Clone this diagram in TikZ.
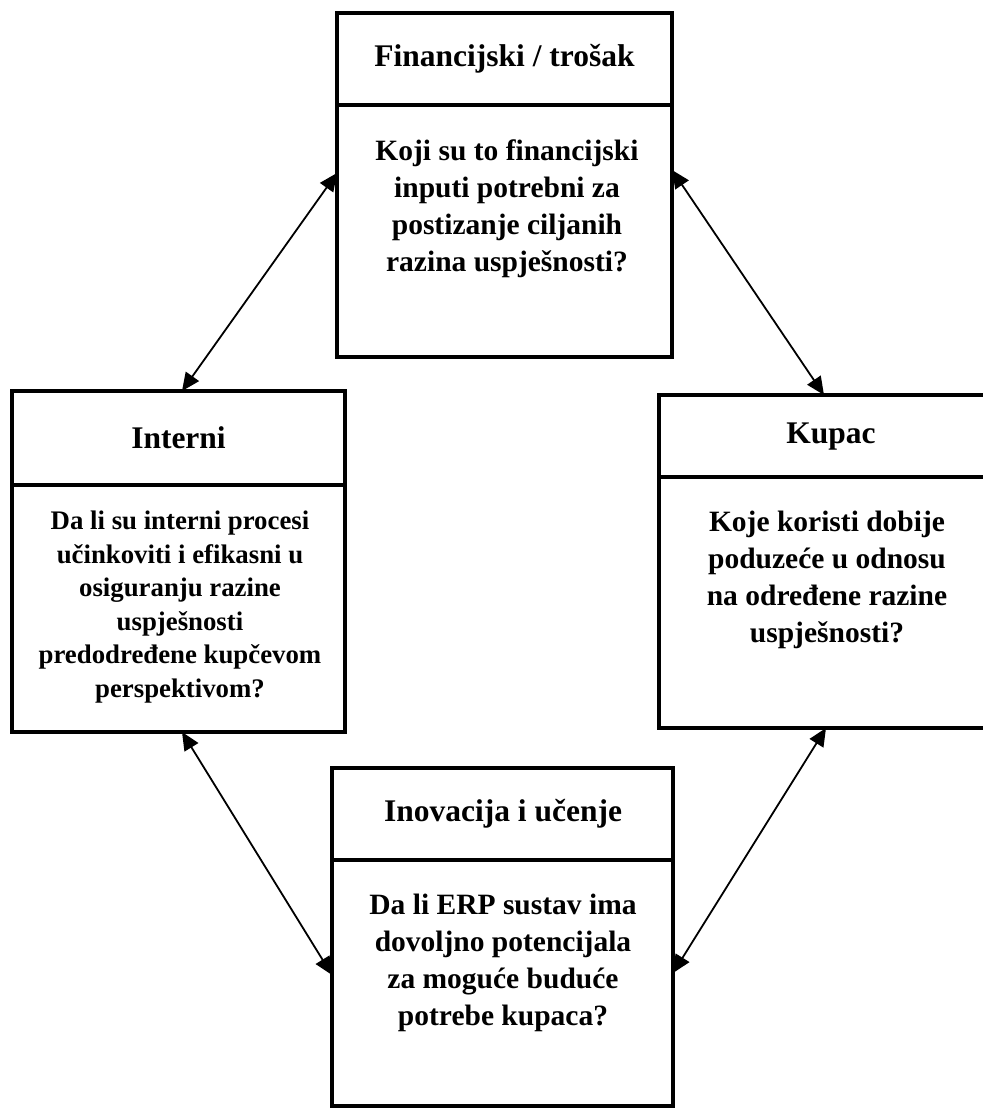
\documentclass[tikz,border=0pt]{standalone}
\usepackage{fontspec}
\setmainfont{Liberation Serif}
\usetikzlibrary{arrows.meta,calc}
\tikzset{
  box/.style={draw=black, line width=3.2pt, rectangle, outer sep=0pt, inner sep=0pt, fill=none},
  divline/.style={draw=black, line width=3.2pt},
  ttl/.style={font=\bfseries\fontsize{31.5}{36}\selectfont, align=center, inner sep=0pt},
  body/.style={font=\bfseries\fontsize{29.5}{37}\selectfont, align=center, inner sep=0pt},
  link/.style={draw=black, line width=1.8pt, {Triangle[length=18pt,width=16pt]}-{Triangle[length=18pt,width=16pt]}, shorten <=0pt, shorten >=0pt}
}
\begin{document}
\begin{tikzpicture}[x=1pt,y=-1pt]
\useasboundingbox (0,0) rectangle (983,1109);
\clip (0,0) rectangle (983,1109);
\fill[white] (0,0) rectangle (983,1109);

% boxes
\node[box, minimum width=335pt, minimum height=344pt] (fin) at (504.5,185) {};
\node[box, minimum width=333pt, minimum height=341pt] (int) at (178.5,561.5) {};
\node[box, minimum width=338pt, minimum height=333pt] (kup) at (828,561.5) {};
\node[box, minimum width=341pt, minimum height=338pt] (ino) at (502.5,937) {};

% dividers
\draw[divline] (fin.west |- 0,105) -- (fin.east |- 0,105);
\draw[divline] (int.west |- 0,485) -- (int.east |- 0,485);
\draw[divline] (kup.west |- 0,477) -- (kup.east |- 0,477);
\draw[divline] (ino.west |- 0,860) -- (ino.east |- 0,860);

% titles
\node[ttl] (finT) at (504.5,59) {Financijski / trošak};
\node[ttl] (intT) at (178.5,438) {Interni};
\node[ttl] (kupT) at (831,437) {Kupac};
\node[ttl] (inoT) at (503,814) {Inovacija i učenje};

% bodies
\node[body] (finB) at (507,209) {Koji su to financijski\\inputi potrebni za\\postizanje ciljanih\\razina uspješnosti?};
\node[body, font=\bfseries\fontsize{26.8}{33.5}\selectfont] (intB) at (180,607) {Da li su interni procesi\\učinkoviti i efikasni u\\osiguranju razine\\uspješnosti\\predodređene kupčevom\\perspektivom?};
\node[body] (kupB) at (827,580) {Koje koristi dobije\\poduzeće u odnosu\\na određene razine\\uspješnosti?};
\node[body] (inoB) at (503,963) {Da li ERP sustav ima\\dovoljno potencijala\\za moguće buduće\\potrebe kupaca?};

% connection points
\coordinate (finL) at ($(fin.west)+(0,-12)$);
\coordinate (finR) at ($(fin.east)+(0,-15)$);
\coordinate (intTop) at ($(int.north)+(3.5,0)$);
\coordinate (intBot) at ($(int.south)+(3.5,0)$);
\coordinate (kupTop) at ($(kup.north)+(-4,0)$);
\coordinate (kupBot) at ($(kup.south)+(-2,0)$);
\coordinate (inoL) at ($(ino.west)+(0,38)$);
\coordinate (inoR) at ($(ino.east)+(0,36)$);

% connectors
\draw[link] (finL) -- (intTop);
\draw[link] (finR) -- (kupTop);
\draw[link] (intBot) -- (inoL);
\draw[link] (kupBot) -- (inoR);
\end{tikzpicture}
\end{document}
